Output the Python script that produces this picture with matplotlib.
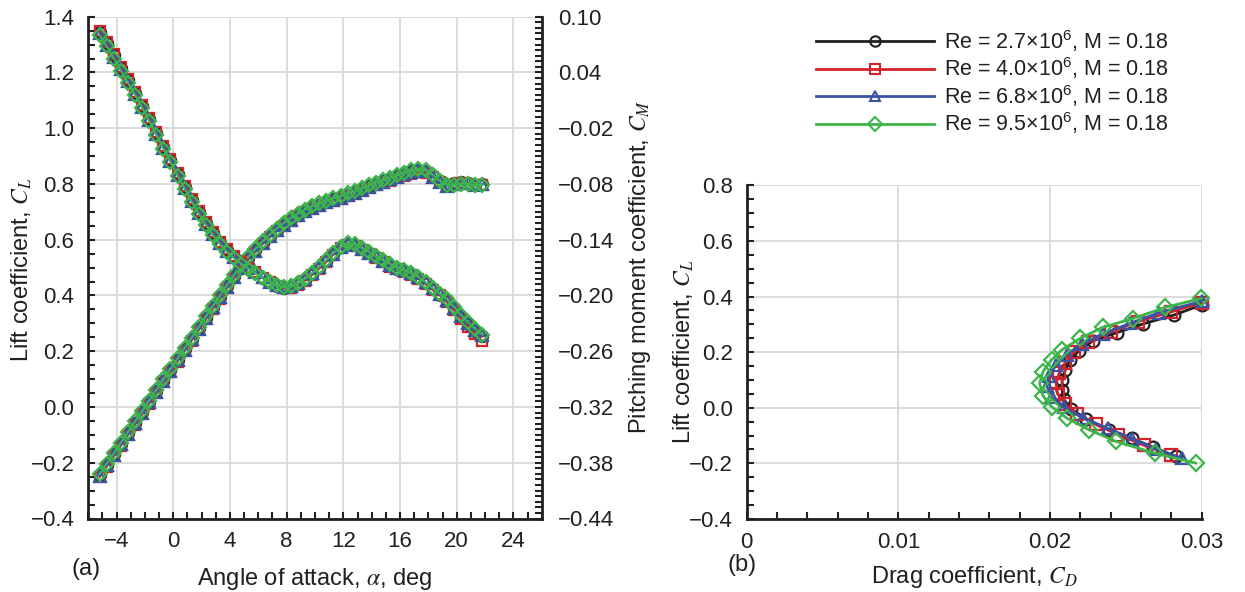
import matplotlib
matplotlib.use('Agg')
import matplotlib.pyplot as plt
from matplotlib.ticker import MultipleLocator, AutoMinorLocator, FuncFormatter
from matplotlib.lines import Line2D

plt.rcParams['font.family'] = ['Liberation Sans', 'DejaVu Sans']
plt.rcParams['mathtext.fontset'] = 'stix'
plt.rcParams['text.color'] = '#231f20'
plt.rcParams['xtick.color'] = '#231f20'
plt.rcParams['ytick.color'] = '#231f20'

# angle of attack, deg (same for all runs)
alpha = [-5.2, -4.7, -4.2, -3.7, -3.2, -2.7, -2.2, -1.7, -1.2, -0.7,
         -0.2, 0.3, 0.8, 1.3, 1.8, 2.3, 2.8, 3.3, 3.8, 4.3,
         4.8, 5.3, 5.8, 6.3, 6.8, 7.3, 7.8, 8.3, 8.8, 9.3,
         9.8, 10.3, 10.8, 11.3, 11.8, 12.3, 12.8, 13.3, 13.8, 14.3,
         14.8, 15.3, 15.8, 16.3, 16.8, 17.3, 17.8, 18.3, 18.8, 19.3,
         19.8, 20.3, 20.8, 21.3, 21.8]

# lift coefficient
cl_27 = [-0.245, -0.207, -0.170, -0.132, -0.094, -0.056, -0.019, 0.019, 0.057, 0.095,
         0.132, 0.170, 0.208, 0.245, 0.283, 0.321, 0.359, 0.396, 0.434, 0.470,
         0.503, 0.535, 0.563, 0.590, 0.614, 0.636, 0.656, 0.674, 0.690, 0.704,
         0.716, 0.726, 0.736, 0.745, 0.753, 0.762, 0.771, 0.781, 0.791, 0.801,
         0.810, 0.819, 0.828, 0.837, 0.845, 0.851, 0.848, 0.830, 0.810, 0.797,
         0.805, 0.806, 0.803, 0.798, 0.800]
cl_40 = [-0.252, -0.214, -0.177, -0.139, -0.101, -0.063, -0.026, 0.012, 0.050, 0.088,
         0.125, 0.163, 0.201, 0.238, 0.276, 0.314, 0.352, 0.389, 0.427, 0.463,
         0.497, 0.529, 0.557, 0.584, 0.608, 0.630, 0.650, 0.668, 0.684, 0.698,
         0.710, 0.720, 0.730, 0.739, 0.747, 0.756, 0.765, 0.775, 0.785, 0.795,
         0.804, 0.812, 0.820, 0.828, 0.836, 0.842, 0.840, 0.825, 0.806, 0.795,
         0.798, 0.803, 0.801, 0.797, 0.798]
cl_68 = [-0.247, -0.209, -0.172, -0.134, -0.096, -0.058, -0.021, 0.017, 0.055, 0.093,
         0.130, 0.168, 0.206, 0.243, 0.281, 0.319, 0.357, 0.394, 0.432, 0.468,
         0.501, 0.533, 0.561, 0.588, 0.612, 0.634, 0.654, 0.672, 0.688, 0.702,
         0.714, 0.724, 0.734, 0.743, 0.751, 0.760, 0.769, 0.779, 0.789, 0.799,
         0.808, 0.817, 0.826, 0.835, 0.843, 0.850, 0.845, 0.826, 0.806, 0.794,
         0.799, 0.803, 0.802, 0.797, 0.799]
cl_95 = [-0.241, -0.203, -0.166, -0.128, -0.090, -0.052, -0.015, 0.023, 0.061, 0.099,
         0.136, 0.174, 0.212, 0.249, 0.287, 0.325, 0.363, 0.400, 0.438, 0.474,
         0.507, 0.539, 0.567, 0.594, 0.618, 0.640, 0.660, 0.678, 0.694, 0.708,
         0.720, 0.730, 0.740, 0.749, 0.757, 0.766, 0.775, 0.785, 0.795, 0.805,
         0.814, 0.823, 0.832, 0.841, 0.849, 0.855, 0.850, 0.832, 0.812, 0.798,
         0.797, 0.801, 0.800, 0.795, 0.797]

# pitching moment coefficient
cm_27 = [0.084, 0.072, 0.059, 0.045, 0.032, 0.018, 0.004, -0.010, -0.025, -0.040,
         -0.054, -0.069, -0.083, -0.097, -0.110, -0.122, -0.133, -0.143, -0.151, -0.159,
         -0.165, -0.170, -0.175, -0.181, -0.186, -0.190, -0.192, -0.191, -0.188, -0.183,
         -0.177, -0.170, -0.163, -0.155, -0.148, -0.145, -0.146, -0.150, -0.154, -0.159,
         -0.163, -0.168, -0.171, -0.174, -0.177, -0.181, -0.187, -0.193, -0.199, -0.205,
         -0.214, -0.223, -0.231, -0.238, -0.244]
cm_40 = [0.085, 0.073, 0.060, 0.046, 0.033, 0.019, 0.005, -0.009, -0.024, -0.039,
         -0.053, -0.068, -0.082, -0.096, -0.109, -0.121, -0.132, -0.142, -0.150, -0.158,
         -0.164, -0.170, -0.175, -0.181, -0.186, -0.190, -0.192, -0.192, -0.189, -0.184,
         -0.178, -0.171, -0.164, -0.156, -0.149, -0.146, -0.147, -0.151, -0.155, -0.160,
         -0.164, -0.169, -0.172, -0.175, -0.178, -0.182, -0.188, -0.194, -0.200, -0.207,
         -0.216, -0.225, -0.234, -0.241, -0.249]
cm_68 = [0.082, 0.070, 0.057, 0.044, 0.031, 0.017, 0.003, -0.011, -0.026, -0.041,
         -0.055, -0.070, -0.084, -0.098, -0.111, -0.123, -0.134, -0.144, -0.152, -0.159,
         -0.165, -0.170, -0.175, -0.180, -0.185, -0.189, -0.191, -0.190, -0.187, -0.182,
         -0.176, -0.169, -0.162, -0.155, -0.148, -0.145, -0.146, -0.150, -0.154, -0.158,
         -0.163, -0.167, -0.170, -0.173, -0.176, -0.180, -0.186, -0.192, -0.198, -0.205,
         -0.213, -0.222, -0.230, -0.237, -0.243]
cm_95 = [0.080, 0.068, 0.055, 0.042, 0.029, 0.016, 0.002, -0.012, -0.027, -0.042,
         -0.056, -0.071, -0.085, -0.099, -0.112, -0.124, -0.135, -0.145, -0.153, -0.160,
         -0.166, -0.171, -0.176, -0.181, -0.185, -0.189, -0.191, -0.190, -0.187, -0.182,
         -0.176, -0.169, -0.162, -0.154, -0.148, -0.144, -0.145, -0.149, -0.153, -0.158,
         -0.162, -0.166, -0.170, -0.173, -0.176, -0.180, -0.186, -0.192, -0.198, -0.204,
         -0.212, -0.221, -0.229, -0.236, -0.242]

# drag polar (CD, CL)
cd_p27 = [0.0283, 0.0268, 0.0254, 0.0239, 0.0224, 0.0214, 0.0209, 0.0208, 0.0208,
          0.0210, 0.0213, 0.0219, 0.0228, 0.0244, 0.0261, 0.0282, 0.0300]
cl_p27 = [-0.175, -0.142, -0.110, -0.079, -0.041, -0.005, 0.030, 0.064, 0.100,
          0.135, 0.170, 0.205, 0.240, 0.270, 0.301, 0.334, 0.370]
cd_p40 = [0.0280, 0.0262, 0.0245, 0.0230, 0.0218, 0.0210, 0.0205, 0.0204,
          0.0206, 0.0210, 0.0216, 0.0225, 0.0240, 0.0258, 0.0280, 0.0300]
cl_p40 = [-0.170, -0.135, -0.097, -0.060, -0.024, 0.013, 0.050, 0.088,
          0.125, 0.162, 0.200, 0.237, 0.273, 0.310, 0.345, 0.378]
cd_p68 = [0.0287, 0.0270, 0.0254, 0.0238, 0.0222, 0.0209, 0.0201, 0.0198,
          0.0199, 0.0204, 0.0211, 0.0221, 0.0235, 0.0253, 0.0272, 0.0300]
cl_p68 = [-0.182, -0.148, -0.111, -0.074, -0.037, 0.001, 0.039, 0.077,
          0.115, 0.153, 0.191, 0.229, 0.266, 0.304, 0.342, 0.383]
cd_p95 = [0.0296, 0.0269, 0.02435, 0.02256, 0.0211, 0.0201, 0.01954, 0.01931,
          0.01954, 0.0201, 0.02077, 0.0220, 0.02346, 0.02547, 0.0276, 0.02996]
cl_p95 = [-0.199, -0.163, -0.121, -0.079, -0.037, 0.004, 0.043, 0.088,
          0.130, 0.172, 0.208, 0.250, 0.289, 0.321, 0.361, 0.393]

labels = [r'Re = 2.7×10$\mathregular{^6}$, M = 0.18',
          r'Re = 4.0×10$\mathregular{^6}$, M = 0.18',
          r'Re = 6.8×10$\mathregular{^6}$, M = 0.18',
          r'Re = 9.5×10$\mathregular{^6}$, M = 0.18']
colors = ['#231f20', '#d2232a', '#3a53a4', '#3cb54a']
markers = ['o', 's', '^', 'D']
msizes = [8, 7.5, 8, 7.5]

cl_runs = [cl_27, cl_40, cl_68, cl_95]
cm_runs = [cm_27, cm_40, cm_68, cm_95]
polar_runs = [(cd_p27, cl_p27), (cd_p40, cl_p40), (cd_p68, cl_p68), (cd_p95, cl_p95)]


def fmt(decimals):
    return FuncFormatter(lambda v, p: f'{v:.{decimals}f}'.replace('-', '\u2212'))


W, H = 1245, 592
fig = plt.figure(figsize=(W / 100, H / 100), dpi=100)
ax = fig.add_axes([88.3 / W, 1 - 518.5 / H, 453.4 / W, 501.8 / H])
ax2 = ax.twinx()
axp = fig.add_axes([746.7 / W, 1 - 519 / H, 455 / W, 333.7 / H])

fs = 16
fl = 17
grid_kw = dict(color='#d9d9d9', linewidth=1.3)

# ---- (a) lift and pitching moment vs alpha
for cl, cm, c, m, ms in zip(cl_runs, cm_runs, colors, markers, msizes):
    ax.plot(alpha, cl, color=c, lw=1.5, marker=m, ms=ms, mfc='none', mew=1.6)
    ax2.plot(alpha, cm, color=c, lw=1.5, marker=m, ms=ms, mfc='none', mew=1.6)

ax.set_xlim(-6, 26)
ax.set_ylim(-0.4, 1.4)
ax.set_xticks([-4, 0, 4, 8, 12, 16, 20, 24])
ax.xaxis.set_minor_locator(MultipleLocator(1))
ax.xaxis.set_major_formatter(fmt(0))
ax.yaxis.set_major_locator(MultipleLocator(0.2))
ax.yaxis.set_minor_locator(MultipleLocator(0.05))
ax.yaxis.set_major_formatter(fmt(1))
ax.grid(True, which='major', **grid_kw)
ax.set_axisbelow(True)
ax2.set_ylim(-0.44, 0.10)
ax2.set_yticks([-0.44, -0.38, -0.32, -0.26, -0.20, -0.14, -0.08, -0.02, 0.04, 0.10])
ax2.yaxis.set_minor_locator(AutoMinorLocator(10))
ax2.yaxis.set_major_formatter(fmt(2))

for a in (ax, ax2):
    for s in a.spines.values():
        s.set_visible(False)
for s in (ax.spines['left'], ax.spines['bottom'], ax2.spines['right']):
    s.set_visible(True)
    s.set_linewidth(2)
    s.set_color('#231f20')

ax.tick_params(which='both', direction='in', length=5, width=1.5, labelsize=fs,
               top=False, right=False)
ax.tick_params(axis='y', pad=10)
ax.tick_params(axis='x', pad=9)
ax2.tick_params(which='both', direction='in', length=5, width=1.5, labelsize=fs,
                pad=12)

fig.text(315 / W, 1 - 579 / H, r'Angle of attack, $\alpha$, deg', fontsize=fl,
         ha='center', va='center')
fig.text(22 / W, 1 - 270 / H, r'Lift coefficient, $C_L$', fontsize=fl,
         rotation=90, ha='center', va='center')
fig.text(640 / W, 1 - 267 / H, r'Pitching moment coefficient, $C_M$', fontsize=fl,
         rotation=90, ha='center', va='center')
fig.text(86 / W, 1 - 569 / H, '(a)', fontsize=fl, ha='center', va='center')

# ---- (b) drag polar
for (cd, cl), c, m, ms in zip(polar_runs, colors, markers, msizes):
    axp.plot(cd, cl, color=c, lw=2, marker=m, ms=ms + 0.5, mfc='none', mew=1.6,
             clip_on=False)

axp.set_xlim(0, 0.03)
axp.set_ylim(-0.4, 0.8)
axp.set_xticks([0, 0.01, 0.02, 0.03])
axp.set_xticklabels(['0', '0.01', '0.02', '0.03'])
axp.xaxis.set_minor_locator(MultipleLocator(0.002))
axp.yaxis.set_major_locator(MultipleLocator(0.2))
axp.yaxis.set_minor_locator(MultipleLocator(0.05))
axp.yaxis.set_major_formatter(fmt(1))
axp.grid(True, which='major', **grid_kw)
axp.set_axisbelow(True)
for k in ('top', 'right'):
    axp.spines[k].set_visible(False)
for k in ('left', 'bottom'):
    axp.spines[k].set_linewidth(2)
    axp.spines[k].set_color('#231f20')
axp.tick_params(which='both', direction='in', length=5, width=1.5, labelsize=fs)
axp.tick_params(axis='y', pad=10)
axp.tick_params(axis='x', pad=9)
fig.text(974 / W, 1 - 577 / H, r'Drag coefficient, $C_D$', fontsize=fl,
         ha='center', va='center')
fig.text(684 / W, 1 - 352 / H, r'Lift coefficient, $C_L$', fontsize=fl,
         rotation=90, ha='center', va='center')
fig.text(742 / W, 1 - 565 / H, '(b)', fontsize=fl, ha='center', va='center')

handles = [Line2D([], [], color=c, lw=2, marker=m, ms=ms - 0.5, mfc='none', mew=1.5)
           for c, m, ms in zip(colors, markers, msizes)]
fig.legend(handles, labels, loc='upper left', bbox_to_anchor=(816 / W, 1 - 28 / H),
           frameon=False, fontsize=15.5, handlelength=5.5, handletextpad=0.45,
           labelspacing=0.07, borderpad=0, borderaxespad=0)

fig.savefig('out.png', dpi=100)
